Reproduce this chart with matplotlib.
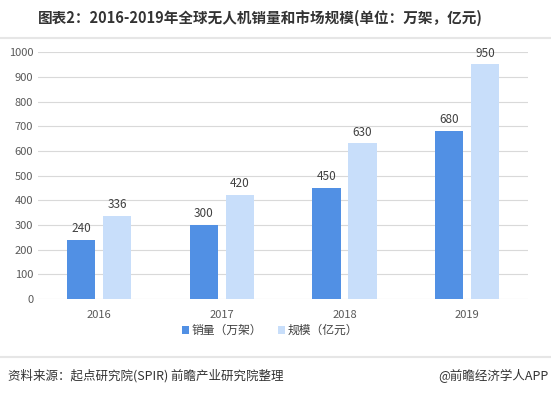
import numpy as np
import matplotlib
matplotlib.use('Agg')
from matplotlib import pyplot as plt

plt.rcParams['font.family'] = ['Noto Sans CJK SC', 'DejaVu Sans']

years = ['2016', '2017', '2018', '2019']
sales = [240, 300, 450, 680]        # 销量 (万架)
market = [336, 420, 630, 950]       # 规模 (亿元)
labels = ['销量（万架）', '规模（亿元）']
title = '图表2：2016-2019年全球无人机销量和市场规模(单位：万架，亿元)'
source = '资料来源：起点研究院(SPIR) 前瞻产业研究院整理'
brand = '@前瞻经济学人APP'

dark = '#5190e4'
light = '#c8defa'

fig = plt.figure(figsize=(5.51, 3.95), dpi=100)
ax = fig.add_axes([0.069, 0.243, 0.89, 0.625])

x = np.arange(len(years))
w = 0.23
off = 0.147
b1 = ax.bar(x - off, sales, w, color=dark, label=labels[0])
b2 = ax.bar(x + off, market, w, color=light, label=labels[1])
for bars in (b1, b2):
    for r in bars:
        ax.text(r.get_x() + r.get_width() / 2, r.get_height() + 20,
                f'{int(r.get_height())}', ha='center', va='bottom',
                fontsize=8.5, color='#404040')

ax.set_xlim(-0.5, 3.5)
ax.set_ylim(0, 1000)
ax.set_yticks(range(0, 1001, 100))
ax.set_xticks(x, years)
ax.tick_params(axis='both', length=0, labelsize=8, colors='#595959')
ax.tick_params(axis='x', pad=8)
ax.grid(axis='y', color='#d9d9d9', linewidth=0.8)
ax.set_axisbelow(True)
for s in ax.spines.values():
    s.set_visible(False)

fig.legend(loc='center', bbox_to_anchor=(0.49, 0.163), ncol=2, frameon=False,
           fontsize=8.5, handlelength=0.6, handleheight=0.6, handletextpad=0.2,
           columnspacing=1.3, labelcolor='#404040')

fig.text(0.472, 0.955, title, ha='center', va='center', fontsize=10.5,
         fontweight='bold', color='#333333')
fig.add_artist(plt.Line2D([0, 1], [0.905, 0.905], color='#e6e6e6', linewidth=1.5))
fig.add_artist(plt.Line2D([0, 1], [0.097, 0.097], color='#e6e6e6', linewidth=1.5))
fig.text(0.015, 0.048, source, ha='left', va='center', fontsize=9, color='#333333')
fig.text(0.995, 0.048, brand, ha='right', va='center', fontsize=9, color='#333333')

plt.savefig('out.png', dpi=100)
